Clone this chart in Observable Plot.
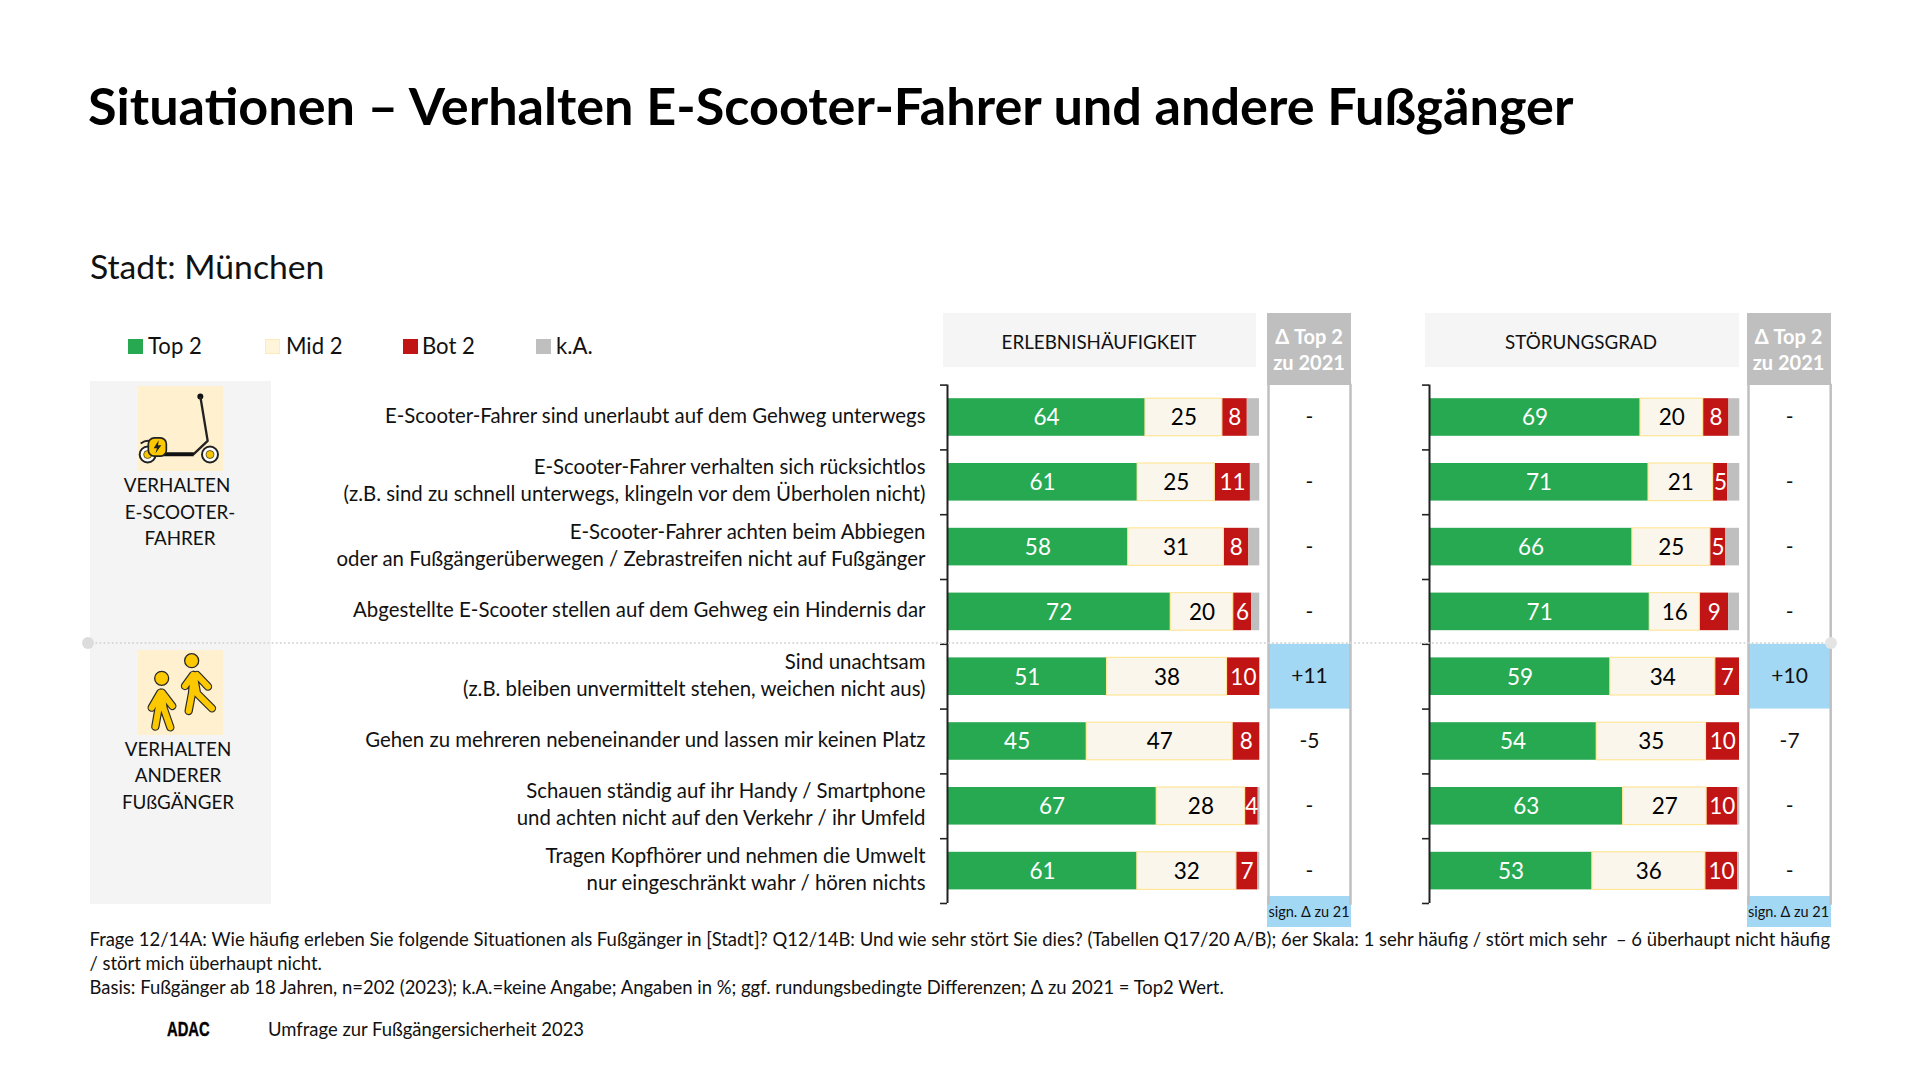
<!DOCTYPE html>
<html lang="de">
<head>
<meta charset="utf-8">
<script src="https://cdn.jsdelivr.net/npm/d3@7"></script>
<script src="https://cdn.jsdelivr.net/npm/@observablehq/plot@0.6"></script>
<style>
  html,body{margin:0;padding:0;background:#fff;}
  #page{position:relative;width:1920px;height:1080px;overflow:hidden;font-family:Lato,sans-serif;color:#111;}
  .t{position:absolute;white-space:nowrap;line-height:1;}
  .c{transform:translate(-50%,-50%);text-align:center;}
  .m{transform:translateY(-50%);}
  .box{position:absolute;}
  .plot{position:absolute;}
  svg.overlay{position:absolute;left:0;top:0;}
</style>
</head>
<body>
<div id="page"></div>
<script>
// ---- data ----
const rowLabels = [
  "E-Scooter-Fahrer sind unerlaubt auf dem Gehweg unterwegs",
  "E-Scooter-Fahrer verhalten sich rücksichtlos\n(z.B. sind zu schnell unterwegs, klingeln vor dem Überholen nicht)",
  "E-Scooter-Fahrer achten beim Abbiegen\noder an Fußgängerüberwegen / Zebrastreifen nicht auf Fußgänger",
  "Abgestellte E-Scooter stellen auf dem Gehweg ein Hindernis dar",
  "Sind unachtsam\n(z.B. bleiben unvermittelt stehen, weichen nicht aus)",
  "Gehen zu mehreren nebeneinander und lassen mir keinen Platz",
  "Schauen ständig auf ihr Handy / Smartphone\nund achten nicht auf den Verkehr / ihr Umfeld",
  "Tragen Kopfhörer und nehmen die Umwelt\nnur eingeschränkt wahr / hören nichts"
];
const bands = ["Top 2","Mid 2","Bot 2","k.A."];
const bandColors = ["#27a951","#fbf6ec","#c11414","#bfbfbf"];

// Erlebnishäufigkeit
const ehTop = [63.4,60.9,57.9,71.5,51.1,44.6,67.0,60.8];
const ehMid = [24.6,24.7,30.6,20.0,38.4,46.7,28.3,31.7];
const ehBot = [8.0,11.4,8.0,5.9,10.5,8.7,4.2,6.9];
const ehKa  = [3.9,3.0,3.5,2.6,0,0,0.6,0.6];
const ehTopText = [64,61,58,72,51,45,67,61];
const ehMidText = [25,25,31,20,38,47,28,32];
const ehBotText = [8,11,8,6,10,8,4,7];
const ehDelta = ["-","-","-","-","+11","-5","-","-"];

// Störungsgrad
const sgTop = [68.0,70.6,65.4,71.0,58.3,53.9,62.4,52.5];
const sgMid = [20.2,20.8,25.1,16.1,33.8,35.2,26.9,36.4];
const sgBot = [8.3,4.7,4.9,9.3,7.8,10.8,10.1,10.4];
const sgKa  = [3.5,3.9,4.5,3.5,0,0,0.6,0.6];
const sgTopText = [69,71,66,71,59,54,63,53];
const sgMidText = [20,21,25,16,34,35,27,36];
const sgBotText = [8,5,5,9,7,10,10,10];
const sgDelta = ["-","-","-","-","+10","-7","-","-"];

const significant = ["+11","+10"];

// ---- layout ----
const FONT = "Lato, sans-serif";
const page = document.getElementById("page");
const bodySize = 20.4;
const capsSize = 18.8;
const plotTop = 360, plotH = 560, yTop = 384.6, yBot = 903;
const step = (yBot - yTop) / rowLabels.length;

function text(str, x, y, size, cls, extra){
  const d = document.createElement("div");
  d.className = "t " + (cls||"");
  d.textContent = str;
  d.style.cssText = `left:${x}px;top:${y}px;font-size:${size}px;` + (extra||"");
  page.appendChild(d);
  return d;
}
function box(x,y,w,h,bg,extra){
  const d = document.createElement("div");
  d.className = "box";
  d.style.cssText = `left:${x}px;top:${y}px;width:${w}px;height:${h}px;background:${bg};` + (extra||"");
  page.appendChild(d);
  return d;
}

// Titles
text("Situationen – Verhalten E-Scooter-Fahrer und andere Fußgänger", 88, 105, 52.2, "m", "font-weight:700;color:#000;");
text("Stadt: München", 90, 266.5, 33.7, "m");

// Legend
const legendX = [[128,148],[265,286],[403,422],[536,556]];
bands.forEach((b,i)=>{
  const mid = i===1;
  box(legendX[i][0],339,15,15, mid ? "#fff5da" : (i===3?"#bfbfbf":bandColors[i]), mid?"box-sizing:border-box;border:1.5px solid #ffeab8;":"");
  text(b, legendX[i][1], 345.5, 22.1, "m");
});

// Group panel
box(90,381,181,523,"#f4f4f4");
box(138,386,85,85,"#fff1cf");
box(138,650,85,85,"#fff1cf");
["VERHALTEN","E-SCOOTER-","FAHRER"].forEach((s,i)=>text(s,[177,180,180][i],485+i*26.7,capsSize,"c"));
["VERHALTEN","ANDERER","FUßGÄNGER"].forEach((s,i)=>text(s,178,748.5+i*26.7,capsSize,"c"));

// Icons
page.insertAdjacentHTML("beforeend",`
<svg class="overlay" style="left:138px;top:386px" width="85" height="85" viewBox="0 0 255 254">
  <circle cx="187" cy="31" r="9" fill="#111"/>
  <path d="M187 31 L209 164 L167 204 H60" fill="none" stroke="#222" stroke-width="7" stroke-linejoin="round"/>
  <path d="M60 204 H167" stroke="#111" stroke-width="12"/>
  <circle cx="216" cy="205" r="24" fill="#fff" stroke="#222" stroke-width="6"/>
  <circle cx="216" cy="205" r="12" fill="#f7c600" stroke="#222" stroke-width="2"/>
  <circle cx="29" cy="205" r="24" fill="#fff" stroke="#222" stroke-width="6"/>
  <circle cx="29" cy="205" r="12" fill="#f7c600" stroke="#222" stroke-width="2"/>
  <path d="M8 172 Q25 160 40 166" fill="none" stroke="#222" stroke-width="6"/>
  <rect x="31" y="155" width="54" height="55" rx="18" fill="#fcc800" stroke="#222" stroke-width="5"/>
  <path d="M62 162 L47 186 H57 L52 202 L70 177 H60 Z" fill="#222"/>
</svg>
<svg class="overlay" style="left:138px;top:650px" width="85" height="85" viewBox="0 0 255 255">
  <g fill="none" stroke="#2a2a2a" stroke-width="25" stroke-linecap="round" stroke-linejoin="round">
    <path d="M70 128 L52 230 M70 128 L77 175 L97 232 M67 128 L41 173 M72 128 L103 168"/>
    <path d="M167 75 L162 130 L152 183 M167 75 L177 130 L222 175 M165 75 L141 108 M177 75 L210 110"/>
  </g>
  <g fill="none" stroke="#fcc800" stroke-width="18" stroke-linecap="round" stroke-linejoin="round">
    <path d="M70 128 L52 230 M70 128 L77 175 L97 232 M67 128 L41 173 M72 128 L103 168"/>
    <path d="M167 75 L162 130 L152 183 M167 75 L177 130 L222 175 M165 75 L141 108 M177 75 L210 110"/>
  </g>
  <circle cx="71" cy="85" r="21" fill="#fcc800" stroke="#2a2a2a" stroke-width="4"/>
  <circle cx="161" cy="32" r="21" fill="#fcc800" stroke="#2a2a2a" stroke-width="4"/>
</svg>`);

// Column heads
box(943,313,313,54,"#f5f5f5");
box(1425,313,314,54,"#f5f5f5");
text("ERLEBNISHÄUFIGKEIT",1099,341.5,capsSize,"c");
text("STÖRUNGSGRAD",1581,341.5,capsSize,"c");
[[1267,1309],[1746.8,1788.5]].forEach(([x,cx])=>{
  box(x,313,84,72,"#bfbfbf");
  text("Δ Top 2",cx,335.5,20,"c","font-weight:700;color:#fff;");
  text("zu 2021",cx,362,20,"c","font-weight:700;color:#fff;");
  box(x,896,84,31,"#a3d8f5");
  text("sign. Δ zu 21",cx,912,14.5,"c");
});

// ---- charts ----
function longTable(top,mid,bot,ka,topT,midT,botT){
  const out = [];
  rowLabels.forEach((row,i)=>{
    out.push({row,band:bands[0],value:top[i],label:String(topT[i]),ink:"#fff"});
    out.push({row,band:bands[1],value:mid[i],label:String(midT[i]),ink:"#000",start:top[i],end:top[i]+mid[i]});
    out.push({row,band:bands[2],value:bot[i],label:String(botT[i]),ink:"#fff"});
    out.push({row,band:bands[3],value:ka[i],label:"",ink:"#000"});
  });
  return out;
}
function barPlot(table, left, x0, x1, withLabels){
  const unit = (x1-x0)/100;
  const rightEdge = x1+1;
  const marks = [
    Plot.barX(table, Plot.stackX({x:"value",y:"row",fill:"band",order:null})),
    Plot.barX(table.filter(d=>d.band===bands[1]), {x1:"start",x2:"end",y:"row",fill:"none",stroke:"#ffe699",strokeWidth:1.2}),
    Plot.text(table.filter(d=>d.label), Plot.stackX({x:"value",y:"row",text:"label",fill:"ink",order:null,fontSize:22.5,dy:0.7})),
    Plot.ruleX([0],{stroke:"#222",strokeWidth:2}),
    Plot.ruleY(rowLabels,{y:d=>d,x1:-7/unit,x2:0,dy:-step/2,stroke:"#222",strokeWidth:1.6}),
    Plot.ruleY(rowLabels.slice(-1),{y:d=>d,x1:-7/unit,x2:0,dy:step/2,stroke:"#222",strokeWidth:1.6})
  ];
  if (withLabels) marks.unshift(Plot.axisY({anchor:"left",tickSize:0,tickPadding:22,label:null,fontSize:bodySize,lineHeight:1.31,tickFormat:d=>d,textOverflow:null,lineWidth:Infinity,color:"#111",dy:-3}));
  const svg = Plot.plot({
    width: rightEdge-left, height: plotH,
    marginLeft: x0-left, marginRight: rightEdge-x1, marginTop: yTop-plotTop, marginBottom: plotTop+plotH-yBot,
    style:{fontFamily:FONT,background:"transparent",overflow:"visible"},
    x:{domain:[0,100],axis:null},
    y:{domain:rowLabels,paddingInner:0.42,paddingOuter:0.21,axis:null,round:false},
    color:{domain:bands,range:bandColors},
    marks
  });
  svg.classList.add("plot");
  svg.style.left = left+"px"; svg.style.top = plotTop+"px";
  page.appendChild(svg);
}
function deltaPlot(values, x0, x1){
  const left = x0-6, w = x1-x0+12;
  const table = rowLabels.map((row,i)=>({row,delta:values[i],sig:significant.includes(values[i])}));
  const svg = Plot.plot({
    width:w, height:plotH, marginLeft:6, marginRight:6,
    marginTop:yTop-plotTop, marginBottom:plotTop+plotH-yBot,
    style:{fontFamily:FONT,background:"transparent",overflow:"visible"},
    y:{domain:rowLabels,padding:0,axis:null,round:false},
    marks:[
      Plot.cell(table.filter(d=>d.sig),{y:"row",fill:"#a3d8f5"}),
      Plot.frame({anchor:"left",stroke:"#bfbfbf",strokeWidth:2.5}),
      Plot.frame({anchor:"right",stroke:"#bfbfbf",strokeWidth:2.5}),
      Plot.text(table,{y:"row",text:"delta",frameAnchor:"middle",fontSize:21,fill:"#111"})
    ]
  });
  svg.classList.add("plot");
  svg.style.left = left+"px"; svg.style.top = plotTop+"px";
  page.appendChild(svg);
}
barPlot(longTable(ehTop,ehMid,ehBot,ehKa,ehTopText,ehMidText,ehBotText), 300, 947, 1259.3, true);
barPlot(longTable(sgTop,sgMid,sgBot,sgKa,sgTopText,sgMidText,sgBotText), 1410, 1429, 1739.3, false);
deltaPlot(ehDelta, 1268, 1350);
deltaPlot(sgDelta, 1747.8, 1830);

// Separator
page.insertAdjacentHTML("beforeend",`
<svg class="overlay" width="1920" height="1080" style="pointer-events:none">
  <line x1="88" y1="643" x2="1831" y2="643" stroke="#d6d6d6" stroke-width="2" stroke-linecap="round" stroke-dasharray="0.1 4"/>
  <circle cx="88" cy="643" r="6" fill="#dcdcdc"/>
  <circle cx="1831" cy="643" r="6" fill="#e4e4e4"/>
</svg>`);

// Footnotes
const notes = [
  "Frage 12/14A: Wie häufig erleben Sie folgende Situationen als Fußgänger in [Stadt]? Q12/14B: Und wie sehr stört Sie dies? (Tabellen Q17/20 A/B); 6er Skala: 1 sehr häufig / stört mich sehr  – 6 überhaupt nicht häufig",
  "/ stört mich überhaupt nicht.",
  "Basis: Fußgänger ab 18 Jahren, n=202 (2023); k.A.=keine Angabe; Angaben in %; ggf. rundungsbedingte Differenzen; Δ zu 2021 = Top2 Wert."
];
notes.forEach((s,i)=>text(s,89.5,938.5+i*24,18.45,"m","white-space:pre;"));
text("ADAC",167,1029,20.5,"","font-family:'Liberation Sans';font-weight:700;color:#000;-webkit-text-stroke:0.4px #000;transform:translateY(-50%) scaleX(0.72);transform-origin:left center;");
text("Umfrage zur Fußgängersicherheit 2023",268,1029,18.45,"m");
</script>
</body>
</html>
